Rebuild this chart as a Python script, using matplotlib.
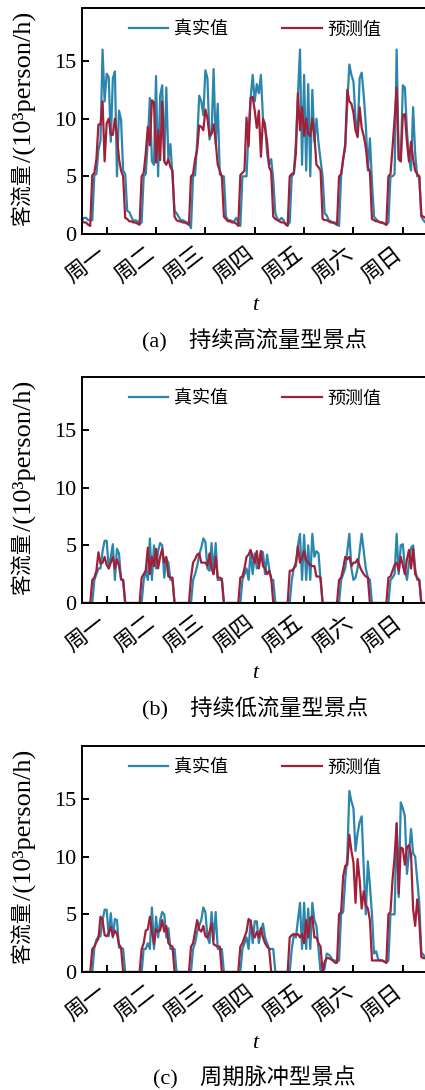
import numpy as np
import matplotlib
matplotlib.use('Agg')
import matplotlib.pyplot as plt
import matplotlib.transforms as mtransforms

# ---------------- data ----------------
DAYS = ['周一', '周二', '周三', '周四', '周五', '周六', '周日']
LEGEND = ['真实值', '预测值']
YLABEL_CJK = '客流量'
YLABEL_LAT = '/(10³person/h)'
XLABEL = 't'
CAPTIONS = ['(a)\u3000持续高流量型景点', '(b)\u3000持续低流量型景点', '(c)\u3000周期脉冲型景点']
YTICKS = [0, 5, 10, 15]

# (a) hourly values, one row per day
A_TRUE = [
    1.2, 1.4, 1.4, 1.2, 1.2, 1.2, 5.1, 5.2, 7.3, 8.1, 16.0, 11.5, 13.9, 13.6, 8.0, 13.5, 14.1, 5.0, 10.7, 9.9, 5.5, 5.2, 2.0, 1.9,
    1.5, 1.1, 1.2, 1.1, 0.9, 1.0, 5.0, 5.2, 8.0, 11.8, 6.3, 6.0, 13.7, 5.0, 12.0, 12.9, 6.3, 12.7, 6.5, 7.8, 5.0, 2.0, 1.8, 1.5,
    1.2, 1.2, 1.1, 1.0, 0.9, 0.5, 5.0, 5.1, 8.0, 12.0, 11.5, 10.3, 14.2, 13.5, 8.2, 8.8, 14.3, 7.8, 11.3, 5.2, 5.0, 5.0, 1.5, 1.2,
    1.2, 1.1, 1.1, 1.4, 1.0, 0.7, 5.0, 5.0, 5.0, 9.0, 11.8, 13.8, 11.5, 13.0, 12.2, 13.8, 10.0, 9.6, 7.0, 6.0, 6.5, 4.7, 1.8, 1.3,
    1.2, 1.4, 1.2, 0.8, 0.8, 1.0, 5.0, 5.2, 8.0, 12.0, 16.0, 6.0, 13.8, 5.5, 13.0, 5.0, 12.5, 8.0, 10.0, 7.9, 6.4, 5.0, 1.8, 1.6,
    1.2, 1.1, 1.0, 1.0, 0.8, 0.7, 5.0, 6.5, 7.5, 11.3, 14.7, 13.8, 13.2, 10.0, 8.5, 13.5, 14.0, 12.0, 9.5, 5.5, 8.3, 4.5, 1.5, 1.3,
    1.1, 1.0, 1.0, 0.9, 0.8, 1.0, 5.0, 5.0, 5.2, 16.0, 6.5, 6.3, 12.9, 12.7, 9.0, 6.5, 5.5, 11.0, 7.0, 5.0, 5.0, 1.5, 1.2, 1.0,
]
A_PRED = [
    1.1, 1.0, 1.0, 0.8, 0.7, 5.1, 5.3, 6.5, 9.5, 9.5, 11.5, 6.3, 9.6, 10.0, 8.6, 8.6, 10.0, 8.5, 6.5, 5.5, 5.0, 1.4, 1.3, 1.1,
    1.1, 1.0, 1.0, 0.9, 0.8, 5.0, 5.3, 7.0, 9.3, 7.7, 11.6, 11.4, 6.2, 9.0, 6.4, 11.5, 6.3, 6.0, 6.5, 5.8, 5.5, 1.5, 1.2, 1.1,
    1.1, 1.0, 1.0, 0.9, 0.8, 5.0, 5.2, 6.5, 7.3, 9.4, 9.3, 9.0, 10.8, 10.0, 8.5, 8.7, 9.5, 8.0, 6.0, 5.5, 5.0, 1.5, 1.3, 1.1,
    1.1, 1.0, 1.0, 0.9, 0.7, 5.1, 5.3, 5.5, 10.1, 7.6, 11.8, 11.9, 10.7, 9.2, 10.7, 6.7, 10.0, 9.2, 8.0, 5.8, 5.4, 1.5, 1.3, 1.2,
    1.1, 1.0, 1.0, 0.9, 0.7, 5.0, 5.2, 5.3, 7.0, 12.2, 9.0, 11.0, 8.5, 10.0, 8.7, 8.5, 10.0, 8.5, 6.0, 5.8, 5.5, 1.3, 1.2, 1.2,
    1.1, 1.0, 1.0, 0.9, 0.8, 5.0, 5.2, 6.5, 7.8, 12.5, 11.5, 11.3, 10.5, 9.0, 8.4, 11.0, 9.2, 8.5, 7.5, 5.8, 5.4, 1.3, 1.2, 1.1,
    1.1, 1.0, 1.0, 0.9, 0.8, 5.0, 5.2, 7.5, 10.0, 12.7, 6.5, 6.3, 10.3, 10.4, 8.0, 6.3, 8.0, 6.5, 5.5, 5.2, 5.0, 1.6, 1.5, 1.4,
]

# (b)
B_TRUE = [
    0, 0, 0, 0, 0, 0, 2.0, 2.5, 3.0, 3.0, 4.5, 5.4, 5.4, 3.0, 4.0, 5.1, 2.0, 4.7, 4.3, 2.0, 2.0, 0, 0, 0,
    0, 0, 0, 0, 0, 0, 2.0, 2.8, 2.0, 5.6, 2.0, 5.0, 3.0, 4.5, 5.2, 5.0, 2.2, 3.8, 3.5, 2.0, 2.0, 0, 0, 0,
    0, 0, 0, 0, 0, 0, 2.0, 2.5, 3.2, 4.2, 4.8, 5.6, 5.3, 3.0, 2.8, 5.2, 2.5, 5.2, 2.0, 2.0, 2.0, 0, 0, 0,
    0, 0, 0, 0, 0, 0, 2.0, 2.5, 3.0, 2.0, 4.5, 2.5, 4.3, 3.0, 3.2, 4.5, 4.4, 2.5, 4.2, 3.0, 2.0, 2.0, 0, 0,
    0, 0, 0, 0, 0, 0, 2.0, 3.0, 3.2, 5.0, 6.0, 2.0, 5.9, 2.0, 5.0, 2.0, 6.0, 4.0, 4.5, 4.3, 2.0, 0, 0, 0,
    0, 0, 0, 0, 0, 0, 2.0, 2.5, 3.0, 4.5, 6.0, 3.0, 2.0, 2.2, 3.0, 4.5, 6.0, 4.5, 3.0, 2.2, 2.0, 0, 0, 0,
    0, 0, 0, 0, 0, 0, 2.0, 2.2, 2.5, 6.0, 2.5, 5.0, 5.1, 3.0, 2.0, 3.5, 4.8, 5.0, 3.0, 2.0, 2.0, 0, 0, 0,
]
B_PRED = [
    0, 0, 0, 0, 0, 2.0, 2.2, 2.8, 4.4, 3.4, 3.5, 4.0, 3.3, 3.0, 3.5, 4.0, 3.0, 3.8, 3.2, 2.1, 2.0, 0, 0, 0,
    0, 0, 0, 0, 0, 2.2, 2.5, 2.8, 4.8, 2.5, 4.0, 3.2, 4.7, 3.0, 4.0, 4.7, 3.5, 4.0, 2.3, 2.2, 2.2, 0, 0, 0,
    0, 0, 0, 0, 0, 2.2, 3.5, 3.8, 4.2, 4.3, 3.5, 3.5, 3.5, 3.2, 4.3, 3.0, 2.5, 4.0, 2.2, 2.2, 2.1, 0, 0, 0,
    0, 0, 0, 0, 0, 2.2, 2.3, 3.0, 4.0, 4.2, 4.6, 4.0, 3.5, 4.5, 3.0, 4.5, 3.2, 3.0, 2.5, 2.8, 2.2, 0, 0, 0,
    0, 0, 0, 0, 0, 2.8, 2.8, 3.0, 3.5, 4.9, 3.5, 3.9, 4.5, 3.7, 3.5, 3.3, 3.2, 3.2, 2.3, 2.3, 2.2, 0, 0, 0,
    0, 0, 0, 0, 0, 2.0, 2.2, 3.0, 4.0, 3.8, 4.0, 3.2, 3.5, 3.5, 3.8, 3.2, 2.8, 2.5, 2.3, 2.2, 0, 0, 0, 0,
    0, 0, 0, 0, 0, 2.2, 2.3, 2.8, 3.3, 3.5, 2.8, 4.0, 3.3, 2.5, 3.8, 4.6, 3.0, 4.7, 2.5, 2.2, 2.0, 0, 0, 0,
]

# (c)
C_TRUE = [
    0, 0, 0, 0, 0, 0, 2.1, 2.8, 3.1, 3.1, 4.5, 5.4, 5.4, 3.1, 5.1, 3.0, 4.6, 4.5, 2.1, 2.1, 2.0, 0, 0, 0,
    0, 0, 0, 0, 0, 0, 2.0, 2.0, 2.5, 2.0, 5.6, 2.0, 4.8, 3.0, 4.5, 5.2, 5.0, 3.0, 3.8, 2.0, 2.0, 2.0, 0, 0,
    0, 0, 0, 0, 0, 0, 2.0, 2.5, 3.5, 4.0, 4.5, 5.6, 5.2, 3.0, 2.5, 5.2, 2.8, 5.2, 2.0, 2.0, 2.0, 0, 0, 0,
    0, 0, 0, 0, 0, 0, 2.0, 2.5, 3.0, 2.0, 4.5, 2.5, 4.4, 4.4, 2.5, 3.5, 4.2, 3.0, 2.5, 2.0, 2.0, 2.0, 0, 0,
    0, 0, 0, 0, 0, 0, 2.0, 3.2, 3.0, 4.5, 6.0, 2.0, 6.0, 2.0, 5.5, 2.0, 6.0, 4.5, 4.0, 2.0, 0, 0, 0.3, 1.6,
    1.5, 1.3, 1.0, 1.0, 0.9, 1.0, 5.0, 5.2, 8.0, 10.0, 15.7, 14.8, 14.2, 10.5, 12.0, 13.0, 13.5, 9.0, 5.0, 9.6, 7.5, 5.0, 1.6, 1.8,
    1.1, 1.0, 1.0, 0.9, 0.8, 1.0, 5.0, 5.0, 5.0, 12.9, 6.5, 14.7, 14.2, 13.5, 8.5, 10.3, 12.4, 10.3, 10.0, 8.0, 6.0, 1.7, 1.5, 1.2,
]
C_PRED = [
    0, 0, 0, 0, 0, 2.0, 2.2, 2.6, 2.9, 4.8, 4.5, 3.2, 3.1, 3.4, 3.9, 3.1, 3.6, 3.3, 2.4, 2.1, 0, 0, 0, 0,
    0, 0, 0, 0, 0, 2.0, 2.5, 3.6, 3.7, 4.8, 3.5, 2.4, 3.7, 3.5, 3.6, 4.5, 3.5, 4.0, 2.5, 2.3, 2.2, 0, 0, 0,
    0, 0, 0, 0, 0, 2.2, 2.5, 3.5, 4.5, 3.7, 3.5, 4.0, 3.1, 3.0, 3.5, 4.2, 2.4, 2.3, 2.2, 2.2, 0, 0, 0, 0,
    0, 0, 0, 0, 0, 2.2, 2.5, 3.0, 3.5, 4.6, 4.4, 3.3, 3.0, 3.5, 3.0, 3.8, 3.0, 2.5, 2.2, 2.0, 0, 0, 0, 0,
    0, 0, 0, 0, 0, 3.0, 3.2, 3.3, 3.2, 3.3, 3.0, 3.3, 2.5, 4.5, 3.0, 4.7, 4.8, 3.0, 3.0, 2.5, 2.2, 0, 0.9, 1.2,
    1.2, 1.1, 1.0, 0.8, 0.8, 5.0, 5.2, 8.3, 9.2, 9.3, 11.9, 10.5, 9.5, 6.0, 9.8, 8.0, 5.5, 7.0, 5.8, 5.5, 4.5, 1.0, 1.0, 1.0,
    1.0, 1.0, 1.0, 0.9, 0.8, 5.0, 5.2, 8.0, 10.0, 12.9, 6.8, 10.8, 10.7, 9.3, 10.8, 11.0, 10.2, 5.5, 4.0, 6.3, 4.5, 1.3, 1.2, 1.2,
]

PANELS = [(A_TRUE, A_PRED), (B_TRUE, B_PRED), (C_TRUE, C_PRED)]

# ---------------- style ----------------
CJK = ['Noto Sans CJK SC', 'DejaVu Sans']
MIX = ['Liberation Serif', 'Noto Sans CJK SC', 'DejaVu Sans']
BLUE = '#2b86ad'
RED = '#a21f38'

W, H = 425, 1090
fig = plt.figure(figsize=(W / 100, H / 100), dpi=100)
renderer = fig.canvas.get_renderer()

ax_left = 82
ax_width = 345.5
ax_height = 226
tops = [8, 377, 746]
TICK_POS = np.arange(12, 168, 24)

for i, ((yt, yp), top) in enumerate(zip(PANELS, tops)):
    bottom_px = top + ax_height
    ax = fig.add_axes([ax_left / W, (H - bottom_px) / H, ax_width / W, ax_height / H])
    hours = np.arange(len(yt))
    ax.plot(hours, yt, color=BLUE, lw=1.6, label=LEGEND[0])
    ax.plot(hours, yp, color=RED, lw=1.6, label=LEGEND[1])
    ax.set_xlim(0, 168)
    ax.set_ylim(0, 19.6)
    ax.set_xticks(TICK_POS)
    ax.set_xticklabels([])
    # day labels placed with a pixel offset from each tick
    off = mtransforms.ScaledTranslation(-11 / 100, -8 / 100, fig.dpi_scale_trans)
    for xp, lab in zip(TICK_POS, DAYS):
        ax.text(xp, 0, lab, transform=ax.get_xaxis_transform() + off,
                rotation=38, ha='right', va='top', rotation_mode='anchor',
                fontfamily=CJK, fontsize=16, clip_on=False)
    ax.set_yticks(YTICKS)
    ax.set_yticklabels([str(v) for v in YTICKS], fontfamily='Liberation Serif', fontsize=16)
    ax.tick_params(direction='in', length=5, width=1.4)
    ax.tick_params(axis='y', pad=4)
    for s in ax.spines.values():
        s.set_linewidth(1.4)
    ax.legend(loc='upper center', ncol=2, frameon=False,
              prop={'family': CJK, 'size': 13},
              handlelength=2.2, handletextpad=0.3, columnspacing=3.0,
              borderaxespad=0.3)

    # y label: CJK part then Latin part, stacked upward
    lx = 23 / W
    y0 = H - (top + 218)
    t1 = fig.text(lx, y0 / H, YLABEL_CJK, rotation=90, ha='left', va='center',
                  rotation_mode='anchor', fontfamily=CJK, fontsize=15)
    ext = t1.get_window_extent(renderer)
    y1 = y0 + ext.height + 1
    fig.text(lx + 1 / W, y1 / H, YLABEL_LAT, rotation=90, ha='left', va='center',
             rotation_mode='anchor', fontfamily='Liberation Serif', fontsize=19)

    cx = (ax_left + ax_width / 2) / W
    fig.text(cx, (H - (top + 297)) / H, XLABEL, ha='center', va='center',
             fontfamily='Liberation Serif', fontstyle='italic', fontsize=16)
    fig.text(cx, (H - (top + 332)) / H, CAPTIONS[i], ha='center', va='center',
             fontfamily=MIX, fontsize=16)

fig.savefig('out.png', dpi=100)
